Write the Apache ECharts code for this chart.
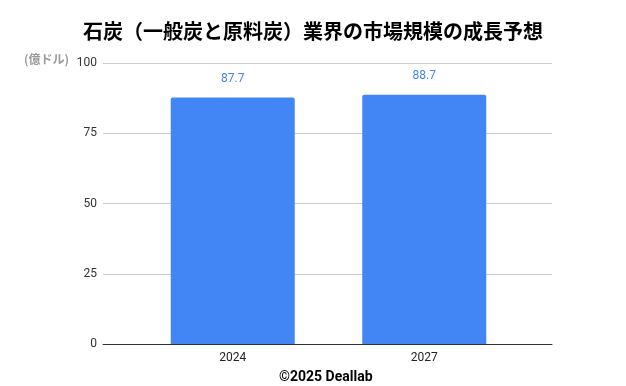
<!DOCTYPE html>
<html>
<head>
<meta charset="utf-8">
<script src="https://cdn.jsdelivr.net/npm/echarts@6/dist/echarts.min.js"></script>
<style>html,body{margin:0;padding:0;background:#fff}#c{width:626px;height:386px}</style>
</head>
<body>
<div id="c"></div>
<script>
const categories = ['2024', '2027'];
const values = [87.7, 88.7];
const yTicks = { min: 0, max: 100, interval: 25 };
const titleText = '石炭（一般炭と原料炭）業界の市場規模の成長予想';
const unitText = '(億ドル)';
const footerText = '©2025 Deallab';

const chart = echarts.init(document.getElementById('c'), null, { renderer: 'canvas' });
chart.setOption({
  animation: false,
  backgroundColor: '#ffffff',
  title: [
    { text: titleText, left: 'center', top: 16,
      textStyle: { fontFamily: 'Noto Sans CJK JP', fontWeight: 'bold', fontSize: 20, color: '#000' } },
    { text: unitText, left: 19, top: 48,
      textStyle: { fontFamily: 'Noto Sans CJK JP', fontWeight: 'bold', fontSize: 12, color: '#9a9a9a' } },
    { text: footerText, left: 274, top: 365,
      textStyle: { fontFamily: 'Roboto', fontWeight: 'bold', fontSize: 14, color: '#000' } }
  ],
  grid: [
    { left: 103, right: 74, top: 63, bottom: 42 },
    { left: 137, right: 106, top: 63, bottom: 42 }
  ],
  xAxis: [
    { type: 'category', gridIndex: 0, data: [''],
      axisLine: { show: true, lineStyle: { color: '#333', width: 1 } },
      axisTick: { show: false }, axisLabel: { show: false }, splitLine: { show: false } },
    { type: 'category', gridIndex: 1, data: categories,
      axisLine: { show: false }, axisTick: { show: false },
      axisLabel: { margin: 8, color: '#222', fontFamily: 'Roboto', fontSize: 12 } }
  ],
  yAxis: [
    { type: 'value', gridIndex: 0, min: yTicks.min, max: yTicks.max, interval: yTicks.interval,
      axisLine: { show: false }, axisTick: { show: false },
      axisLabel: { margin: 6, color: '#333', fontFamily: 'Roboto', fontSize: 12 },
      splitLine: { lineStyle: { color: '#cccccc', width: 1 } } },
    { type: 'value', gridIndex: 1, min: yTicks.min, max: yTicks.max, interval: yTicks.interval,
      show: false, splitLine: { show: false } }
  ],
  series: [
    { type: 'bar', xAxisIndex: 1, yAxisIndex: 1, data: values, barWidth: 124,
      itemStyle: { color: '#4285f4', borderRadius: [2, 2, 0, 0] },
      label: { show: true, position: 'top', distance: 13, color: '#4285f4',
               fontFamily: 'Roboto', fontSize: 12, formatter: p => p.value.toFixed(1) } }
  ]
});
</script>
</body>
</html>
